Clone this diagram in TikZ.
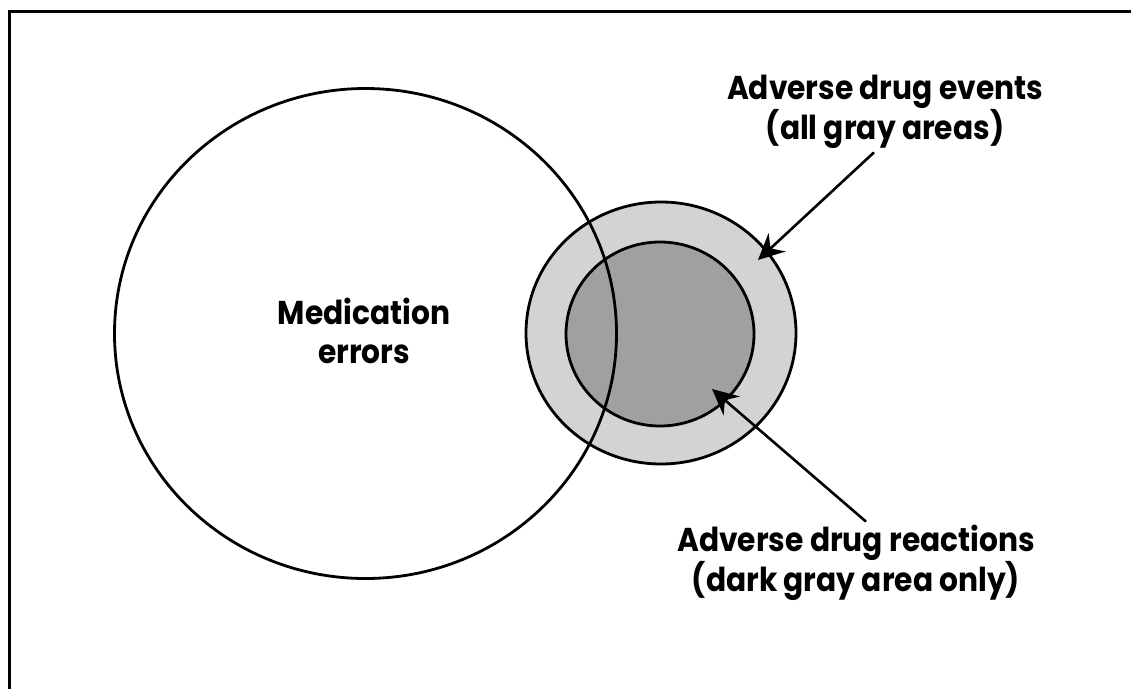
\documentclass[tikz,border=0pt]{standalone}
\usepackage{fontspec}
\setmainfont{Poppins}[FakeStretch=0.9]
\usetikzlibrary{arrows.meta}
\definecolor{ringgray}{RGB}{211,211,211}
\definecolor{coregray}{RGB}{160,160,160}
\begin{document}
\begin{tikzpicture}[x=1pt,y=-1pt,
  ring/.style={draw,line width=2.8pt},
  pointer/.style={line width=2.6pt,-{Stealth[length=26pt,width=25pt,inset=9pt]}},
  lbl/.style={font=\bfseries\fontsize{33}{39}\selectfont,align=center}]
\useasboundingbox (0,0) rectangle (1131,688);
\draw[line width=3pt] (9,700) -- (9,11) -- (1140,11);
\draw[ring,fill=ringgray] (661,333) ellipse [x radius=135,y radius=131];
\draw[ring,fill=coregray] (660,334) ellipse [x radius=94,y radius=92];
\draw[ring] (365.5,333.5) ellipse [x radius=251,y radius=245];
\node[lbl] (med) at (364,331) {Medication\\errors};
\node[lbl] (ade) at (885,112) {Adverse drug events\\(all gray areas)};
\node[lbl] (adr) at (856,563) {Adverse drug reactions\\(dark gray area only)};
\coordinate (eventtip) at (758,260);
\coordinate (reacttip) at (712,389);
\draw[pointer] ([xshift=-11pt]ade.south) -- (eventtip);
\draw[pointer] ([xshift=10pt]adr.north) -- (reacttip);
\end{tikzpicture}
\end{document}
